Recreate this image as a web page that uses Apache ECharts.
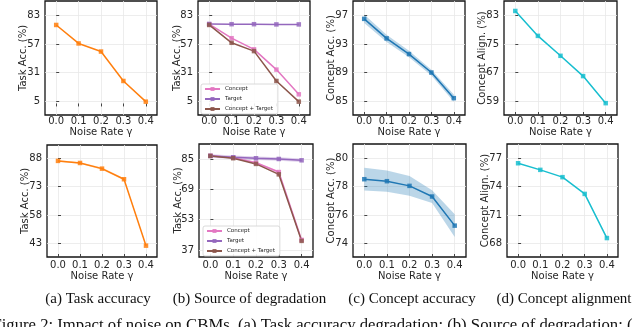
<!DOCTYPE html>
<html><head><meta charset="utf-8">
<script src="https://cdn.jsdelivr.net/npm/echarts@6/dist/echarts.min.js"></script>
<style>html,body{margin:0;padding:0;background:#fff}#c{width:640px;height:327px}</style>
</head><body><div id="c"></div>
<script>
// ---------- data ----------
const noiseRates = [0.0, 0.1, 0.2, 0.3, 0.4];
const xTickValues = [0.0, 0.1, 0.2, 0.3, 0.4];

// top row
const taskAccTop = [74.5, 57.6, 50.2, 23.3, 4.4];
const degConceptTop = [75.2, 62.4, 52.2, 33.7, 11.1];
const degTargetTop = [75.4, 75.2, 75.2, 75.0, 75.0];
const degBothTop = [74.5, 58.2, 50.6, 23.3, 4.4];
const conceptAccTop = [96.55, 93.8, 91.6, 89.0, 85.4];
const conceptAccTopStd = [0.6, 0.5, 0.45, 0.4, 0.5];
const conceptAlignTop = [84.3, 77.3, 71.7, 66.0, 58.4];

// bottom row
const taskAccBot = [86.6, 85.5, 82.5, 76.9, 41.8];
const taskAccBotStd = [0.5, 0.4, 0.6, 0.5, 0.4];
const degConceptBot = [86.7, 85.7, 83.0, 78.1, 42.3];
const degConceptBotStd = [0.6, 0.5, 0.6, 0.6, 0.6];
const degTargetBot = [86.6, 85.9, 85.4, 85.0, 84.3];
const degTargetBotStd = [0.9, 0.9, 0.9, 0.9, 0.9];
const degBothBot = [86.6, 85.4, 82.4, 76.9, 41.8];
const conceptAccBot = [78.52, 78.38, 78.05, 77.3, 75.25];
const conceptAccBotStd = [0.8, 0.75, 0.7, 0.45, 0.8];
const conceptAlignBot = [76.47, 75.77, 75.0, 73.23, 68.57];

// tick labels
const yTicksTaskTop = [5, 31, 57, 83];
const yTicksConceptAccTop = [85, 89, 93, 97];
const yTicksAlignTop = [59, 67, 75, 83];
const yTicksTaskBot = [43, 58, 73, 88];
const yTicksDegBot = [37, 53, 69, 85];
const yTicksConceptAccBot = [74, 76, 78, 80];
const yTicksAlignBot = [68, 71, 74, 77];

const legendNames = ['Concept', 'Target', 'Concept + Target'];
const captions = ['(a) Task accuracy', '(b) Source of degradation', '(c) Concept accuracy', '(d) Concept alignment'];
const figureCaption = 'Figure 2: Impact of noise on CBMs. (a) Task accuracy degradation; (b) Source of degradation; (';

// ---------- styling / layout ----------
const C = {orange:'#ff7f0e', pink:'#e377c2', purple:'#9467bd', brown:'#8c564b', blue:'#1f77b4', cyan:'#17becf'};
const FONT = '"DejaVu Sans", sans-serif';
const TXT = '#262626';

const panels = [
  {box:[45,1,112,114], yr:[-7.8,96.4], ticks:yTicksTaskTop, name:'Task Acc. (%)', row:0, gap:17},
  {box:[198,1,112,114], yr:[-7.8,96.4], ticks:yTicksTaskTop, name:'Task Acc. (%)', row:0, gap:16},
  {box:[353,1,112,114], yr:[83.03,99.06], ticks:yTicksConceptAccTop, name:'Concept Acc. (%)', row:0, gap:17},
  {box:[504,1,113,114], yr:[55.07,87.1], ticks:yTicksAlignTop, name:'Concept Align. (%)', row:0, gap:17},
  {box:[47,145,110,112], yr:[35.8,95.0], ticks:yTicksTaskBot, name:'Task Acc. (%)', row:1, gap:16.5},
  {box:[199,144,114,113], yr:[33.3,92.9], ticks:yTicksDegBot, name:'Task Acc. (%)', row:1, gap:15.5},
  {box:[353,144,113,113], yr:[73.04,81.0], ticks:yTicksConceptAccBot, name:'Concept Acc. (%)', row:1, gap:17},
  {box:[507,144,111,113], yr:[66.57,78.5], ticks:yTicksAlignBot, name:'Concept Align. (%)', row:1, gap:17}
];

const grids = [], xAxes = [], yAxes = [], series = [];
panels.forEach((p, i) => {
  grids.push({left:p.box[0], top:p.box[1], width:p.box[2], height:p.box[3], show:true,
    borderColor:'#141414', borderWidth:1.3, backgroundColor:'transparent', containLabel:false});
  xAxes.push({type:'value', gridIndex:i, min:-0.05, max:0.45,
    axisLine:{show:false},
    axisTick:{show:true, inside:true, length:3, customValues:xTickValues, lineStyle:{color:'#1a1a1a', width:0.8}},
    axisLabel:{customValues:xTickValues, formatter:v=>v.toFixed(1), fontSize:10, color:TXT, fontFamily:FONT, margin:p.row===0?1:3},
    splitLine:{show:true, lineStyle:{color:'#e8e8e8', width:0.8}},
    name:'Noise Rate γ', nameLocation:'middle', nameGap:p.row===0?12:14, nameMoveOverlap:false,
    nameTextStyle:{fontSize:10, color:TXT, fontFamily:FONT, verticalAlign:'top'}});
  yAxes.push({type:'value', gridIndex:i, min:p.yr[0], max:p.yr[1],
    axisLine:{show:false},
    axisTick:{show:true, inside:true, length:3, customValues:p.ticks, lineStyle:{color:'#1a1a1a', width:0.8}},
    axisLabel:{customValues:p.ticks, fontSize:10, color:TXT, fontFamily:FONT, margin:5},
    splitLine:{show:true, lineStyle:{color:'#e8e8e8', width:0.8}},
    name:p.name, nameLocation:'middle', nameGap:p.gap, nameMoveOverlap:false,
    nameTextStyle:{fontSize:10, color:TXT, fontFamily:FONT}});
});

function pts(vals){ return noiseRates.map((x,k)=>[x, vals[k]]); }
function line(idx, name, vals, color){
  return {type:'line', name, xAxisIndex:idx, yAxisIndex:idx, data:pts(vals),
    symbol:'rect', symbolSize:4.5, showSymbol:true, z:3,
    lineStyle:{color, width:1.5}, itemStyle:{color, opacity:0.85}, emphasis:{disabled:true}, animation:false};
}
function band(idx, mean, std, color){
  return {type:'custom', name:'band'+idx+color, xAxisIndex:idx, yAxisIndex:idx, silent:true, z:1, animation:false,
    data: noiseRates.map((x,k)=>[x, mean[k]-std[k], mean[k]+std[k]]),
    encode:{x:0, y:[1,2]},
    renderItem(params, api){
      if (params.dataIndex !== 0) return null;
      const lo = [], hi = [];
      for (let k = 0; k < noiseRates.length; k++){
        lo.push(api.coord([api.value(0,k), api.value(1,k)]));
        hi.push(api.coord([api.value(0,k), api.value(2,k)]));
      }
      return {type:'polygon', shape:{points: lo.concat(hi.reverse())}, style:{fill:color, opacity:0.3}};
    }};
}

series.push(line(0, 'Task', taskAccTop, C.orange));
series.push(line(1, 'Concept', degConceptTop, C.pink));
series.push(line(1, 'Target', degTargetTop, C.purple));
series.push(line(1, 'Concept + Target', degBothTop, C.brown));
series.push(band(2, conceptAccTop, conceptAccTopStd, C.blue));
series.push(line(2, 'ConceptAcc', conceptAccTop, C.blue));
series.push(line(3, 'ConceptAlign', conceptAlignTop, C.cyan));
series.push(band(4, taskAccBot, taskAccBotStd, C.orange));
series.push(line(4, 'Task', taskAccBot, C.orange));
series.push(band(5, degConceptBot, degConceptBotStd, C.pink));
series.push(band(5, degTargetBot, degTargetBotStd, C.purple));
series.push(line(5, 'Concept', degConceptBot, C.pink));
series.push(line(5, 'Target', degTargetBot, C.purple));
series.push(line(5, 'Concept + Target', degBothBot, C.brown));
series.push(band(6, conceptAccBot, conceptAccBotStd, C.blue));
series.push(line(6, 'ConceptAcc', conceptAccBot, C.blue));
series.push(line(7, 'ConceptAlign', conceptAlignBot, C.cyan));

function legend(left, top){
  return {data:legendNames, orient:'vertical', left, top, itemWidth:15, itemHeight:5, itemGap:4,
    backgroundColor:'rgba(255,255,255,0.9)', borderColor:'#d0d0d0', borderWidth:0.8, borderRadius:2,
    padding:[2,5,2,3], selectedMode:false,
    textStyle:{fontSize:5.5, color:TXT, fontFamily:FONT}};
}

const graphics = captions.map((t, i) => ({type:'text', style:{text:t, x:[98,249.5,412,564][i], y:299,
  textAlign:'center', textVerticalAlign:'middle', font:'15px "Liberation Serif", serif', fill:'#111'}}));
graphics.push({type:'text', style:{text:figureCaption, x:-7.6, y:317, textAlign:'left', textVerticalAlign:'top',
  font:'16.7px "Liberation Serif", serif', fill:'#111'}});

const chart = echarts.init(document.getElementById('c'), null, {renderer:'canvas'});
chart.setOption({animation:false, grid:grids, xAxis:xAxes, yAxis:yAxes, series,
  legend:[legend(201,84), legend(203,226)], graphic:graphics});
</script></body></html>
